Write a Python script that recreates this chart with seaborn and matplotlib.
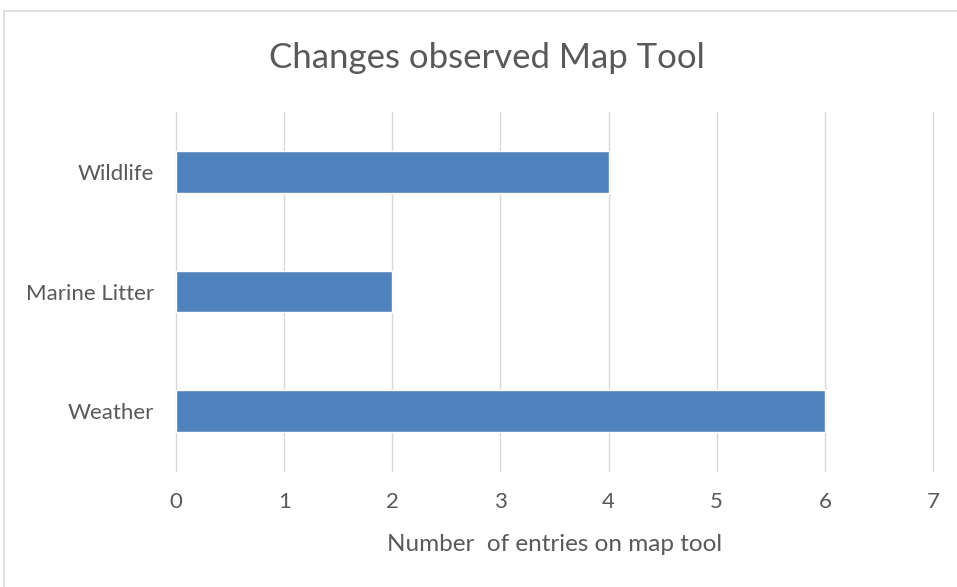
import matplotlib
matplotlib.use("Agg")
import matplotlib.pyplot as plt
import seaborn as sns
import pandas as pd
from matplotlib.patches import Rectangle

# data
categories = ["Wildlife", "Marine Litter", "Weather"]
entries = [4, 2, 6]
x_ticks = [0, 1, 2, 3, 4, 5, 6, 7]

sns.set_theme(style="white")
plt.rcParams['font.family'] = ['Lato', 'DejaVu Sans']

df = pd.DataFrame({"category": categories, "entries": entries})

fig = plt.figure(figsize=(9.57, 5.87), dpi=100)
ax = fig.add_axes([176/957, 1 - 471/587, 757/957, 359/587])

sns.barplot(data=df, x="entries", y="category", orient="h", color="#4F81BD",
            saturation=1, width=0.35, ax=ax)

ax.set_xlim(0, 7)
ax.set_xticks(x_ticks)
ax.grid(axis="x", color="#D9D9D9", linewidth=1)
ax.grid(axis="y", visible=False)
for gl in ax.get_xgridlines():
    gl.set_clip_on(False)
ax.set_axisbelow(True)
for s in ax.spines.values():
    s.set_visible(False)

ax.tick_params(axis="both", length=0, colors="#595959", labelsize=16)
ax.tick_params(axis="y", pad=16)
ax.tick_params(axis="x", pad=15)
ax.set_ylabel("")
ax.set_xlabel("Number  of entries on map tool", color="#595959", fontsize=17.5, labelpad=16)

fig.text(487/957, 1 - 58/587, "Changes observed Map Tool", ha="center", va="center",
         color="#595959", fontsize=25)

# outer chart border
fig.patches.append(Rectangle((4/957, -0.05), 1.1, 1 - 11/587 + 0.05,
                             transform=fig.transFigure, fill=False,
                             edgecolor="#D9D9D9", linewidth=1.2))

fig.savefig("out.png", dpi=100)
